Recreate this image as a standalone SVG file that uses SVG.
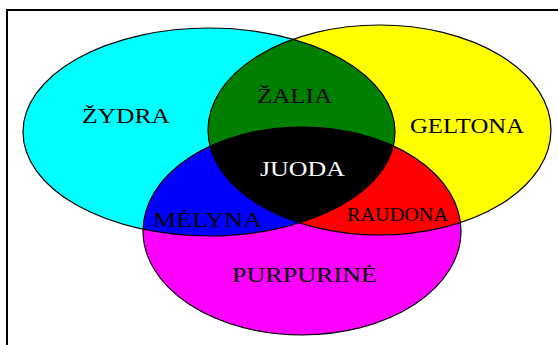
<svg xmlns="http://www.w3.org/2000/svg" width="558" height="345" viewBox="0 0 558 345">
<style>
.lbl{font-family:"Liberation Serif","Times New Roman",serif;font-size:22px;fill:#000;}
.w{fill:#fff;}
.sm{font-size:19px;}
.edge{fill:none;stroke:#000;stroke-width:1.2;}
</style>
<defs>
<ellipse id="eC" cx="209" cy="132" rx="186" ry="104"/>
<ellipse id="eY" cx="379.5" cy="130" rx="171.5" ry="105"/>
<ellipse id="eM" cx="302" cy="231" rx="159" ry="104"/>
<clipPath id="cC"><use href="#eC"/></clipPath>
<clipPath id="cY"><use href="#eY"/></clipPath>
<clipPath id="cCY" clip-path="url(#cC)"><use href="#eY"/></clipPath>
</defs>
<rect width="558" height="345" fill="#fff"/>
<path d="M7,345 V10 H558" fill="none" stroke="#000" stroke-width="2"/>
<g id="cyan"><use href="#eC" fill="#00ffff"/></g>
<g id="yellow"><use href="#eY" fill="#ffff00"/></g>
<g id="magenta"><use href="#eM" fill="#ff00ff"/></g>
<g id="green"><use href="#eY" fill="#007f00" clip-path="url(#cC)"/></g>
<g id="blue"><use href="#eM" fill="#0000ff" clip-path="url(#cC)"/></g>
<g id="red"><use href="#eM" fill="#ff0000" clip-path="url(#cY)"/></g>
<g id="black"><use href="#eM" fill="#000" clip-path="url(#cCY)"/></g>
<g id="outlines">
<use href="#eC" class="edge"/>
<use href="#eY" class="edge"/>
<use href="#eM" class="edge"/>
</g>
<g id="labels">
<text class="lbl" x="82" y="123" textLength="88" lengthAdjust="spacingAndGlyphs">ŽYDRA</text>
<text class="lbl" x="257" y="103" textLength="75" lengthAdjust="spacingAndGlyphs">ŽALIA</text>
<text class="lbl" x="410" y="133" textLength="114" lengthAdjust="spacingAndGlyphs">GELTONA</text>
<text class="lbl w" x="260" y="176" textLength="85" lengthAdjust="spacingAndGlyphs">JUODA</text>
<text class="lbl" x="153" y="227" textLength="109" lengthAdjust="spacingAndGlyphs">MĖLYNA</text>
<text class="lbl sm" x="347" y="221" textLength="101" lengthAdjust="spacingAndGlyphs">RAUDONA</text>
<text class="lbl" x="232" y="282" textLength="145" lengthAdjust="spacingAndGlyphs">PURPURINĖ</text>
</g>
</svg>
